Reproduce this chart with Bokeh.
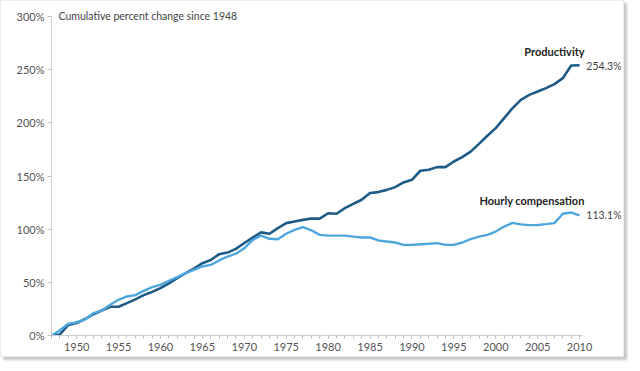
from bokeh.plotting import figure
from bokeh.models import Range1d, SingleIntervalTicker, FixedTicker, Label, CustomJSTickFormatter
from bokeh.embed import file_html
from bokeh.resources import INLINE

years = list(range(1947, 2011))
productivity = [0, 1, 10, 11.7, 15.5, 20, 23.5, 27, 27, 30.5,
                34, 38, 41, 44.6, 49, 54, 58.7, 63, 68, 71,
                76.5, 78, 81.5, 87, 92, 97, 95.7, 101, 105.7, 107.3,
                108.8, 110, 110, 115, 114.5, 119.8, 123.9, 127.7, 134, 134.9,
                137, 139.6, 144, 146.5, 155, 155.9, 158.4, 158.4, 163.7, 167.8,
                173, 180.3, 187.9, 195.1, 204.5, 213.9, 221.7, 226.4, 229.5, 232.7,
                236.5, 242.1, 254, 254.3]
compensation = [0, 5, 11, 12.5, 15, 21, 23.5, 29, 33.6, 36.7,
                 38, 42, 45.5, 47.7, 51.5, 55, 58.7, 61.8, 65, 66.5,
                 70.6, 74.3, 77, 82, 90, 94, 91, 90.5, 95.7, 99.4,
                 102, 99, 94.7, 94, 94, 94, 93, 92.2, 92.2, 89.4,
                 88.4, 87.5, 85.3, 85.3, 85.8, 86.3, 86.9, 85.3, 85.3, 87.5,
                 90.7, 93, 94.7, 97.8, 102.5, 106, 104.5, 103.8, 104, 104.8,
                 105.7, 114.5, 115.7, 113.1]
y_ticks = [0, 50, 100, 150, 200, 250, 300]
series_names = ["Productivity", "Hourly compensation"]
end_labels = ["254.3%", "113.1%"]
title_text = "Cumulative percent change since 1948"

FONT = "Lato"
DARK = "#1d5b86"
LIGHT = "#4ea6dc"

p = figure(width=624, height=357, output_backend="svg", toolbar_location=None,
           x_range=Range1d(1947, 2015.0), y_range=Range1d(0, 306.7),
           min_border_left=50, min_border_right=4, min_border_top=8, min_border_bottom=23)
p.styles = {"border": "1px solid #ececec", "box-shadow": "3px 3px 2px #c8c8c8"}
p.outline_line_color = None
p.xgrid.grid_line_color = None
p.ygrid.grid_line_color = None
p.background_fill_color = "white"
p.border_fill_color = "white"

p.line(years, productivity, line_color=DARK, line_width=2.6)
p.line(years, compensation, line_color=LIGHT, line_width=2.4)

xa = p.xaxis[0]
xa.ticker = SingleIntervalTicker(interval=5, num_minor_ticks=5)
xa.bounds = (1947, 2010.4)
xa.axis_line_color = "#cfcfcf"
xa.major_tick_line_color = "#bdbdbd"
xa.minor_tick_line_color = "#bdbdbd"
xa.major_tick_out = 3
xa.major_tick_in = 0
xa.minor_tick_out = 3
xa.minor_tick_in = 0
xa.major_label_standoff = 4
xa.major_label_text_font = FONT
xa.major_label_text_font_size = "11px"
xa.major_label_text_color = "#555555"

ya = p.yaxis[0]
ya.ticker = FixedTicker(ticks=y_ticks)
ya.bounds = (0, 300)
ya.formatter = CustomJSTickFormatter(code="return tick + '%';")
ya.axis_line_color = "#cfcfcf"
ya.major_tick_line_color = "#bdbdbd"
ya.minor_tick_line_color = None
ya.major_tick_out = 4
ya.major_tick_in = 0
ya.major_label_standoff = 3
ya.major_label_text_font = FONT
ya.major_label_text_font_size = "11px"
ya.major_label_text_color = "#555555"

p.add_layout(Label(x=1947.84, y=300.5, text=title_text, text_font=FONT,
                   text_font_size="10.5px", text_color="#444444", text_baseline="middle"))

p.add_layout(Label(x=2010.6, y=267, text=series_names[0], text_font=FONT,
                   text_font_size="11px", text_font_style="bold", text_color="#222222",
                   text_align="right", text_baseline="middle"))
p.add_layout(Label(x=2010.8, y=253.7, text=end_labels[0], text_font=FONT,
                   text_font_size="10.5px", text_color="#444444",
                   text_align="left", text_baseline="middle"))
p.add_layout(Label(x=2010.6, y=126.7, text=series_names[1], text_font=FONT,
                   text_font_size="11px", text_font_style="bold", text_color="#222222",
                   text_align="right", text_baseline="middle"))
p.add_layout(Label(x=2010.8, y=113.5, text=end_labels[1], text_font=FONT,
                   text_font_size="10.5px", text_color="#444444",
                   text_align="left", text_baseline="middle"))

open("out.html", "w").write(file_html(p, INLINE))
